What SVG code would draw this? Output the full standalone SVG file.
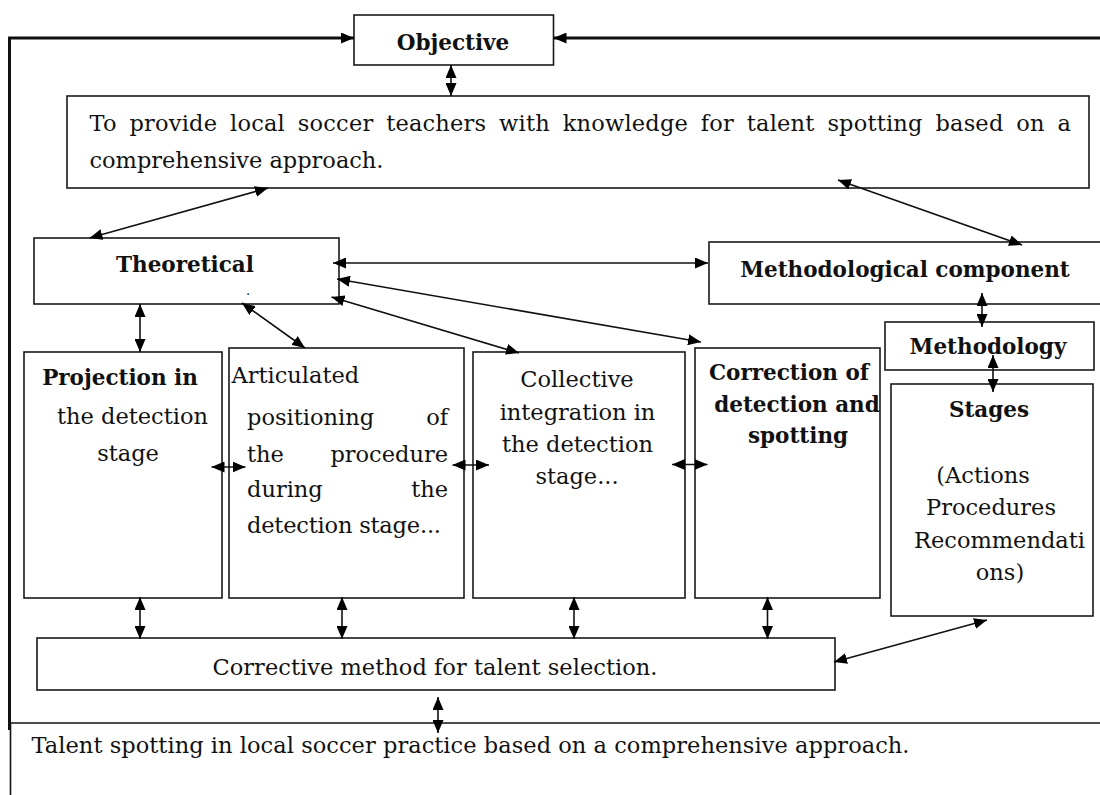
<svg xmlns="http://www.w3.org/2000/svg" width="1100" height="795" viewBox="0 0 1100 795">
<defs>
<marker id="ah" viewBox="0 0 13 11" refX="13" refY="5.5" markerWidth="13" markerHeight="11" markerUnits="userSpaceOnUse" orient="auto-start-reverse"><path d="M0,0L13,5.5L0,11z" fill="#000"/></marker>
<style>
.box{fill:#fff;stroke:#1a1a1a;stroke-width:1.6}
.t{font-family:"DejaVu Serif","Liberation Serif",serif;font-size:22.5px;fill:#111}
.b{font-weight:bold;font-size:21.5px}
.m{text-anchor:middle}
.e{text-anchor:end}
.c{fill:none;stroke:#111;stroke-width:1.6}
.k{fill:none;stroke:#111;stroke-width:3}
.bi{marker-start:url(#ah);marker-end:url(#ah)}
.uni{marker-end:url(#ah)}
</style>
</defs>
<rect width="1100" height="795" fill="#fff"/>

<g id="objective">
<rect class="box" x="354" y="15" width="199.5" height="50"/>
<text class="t b m" x="453" y="50">Objective</text>
</g>

<g id="goal">
<rect class="box" x="67" y="96" width="1022" height="92"/>
<text class="t" x="89.5" y="131" word-spacing="5.5" textLength="981.5" lengthAdjust="spacing">To provide local soccer teachers with knowledge for talent spotting based on a</text>
<text class="t" x="89.5" y="168" textLength="294" lengthAdjust="spacing">comprehensive approach.</text>
</g>

<g id="theoretical">
<rect class="box" x="34" y="238" width="305" height="66"/>
<text class="t b m" x="185" y="272">Theoretical</text>
<text class="t" x="246" y="295" style="font-size:13px">.</text>
</g>

<g id="methodological">
<rect class="box" x="709" y="242" width="400" height="62"/>
<text class="t b m" x="905" y="276.5">Methodological component</text>
</g>

<g id="methodology">
<rect class="box" x="885" y="322" width="209" height="48"/>
<text class="t b m" x="988" y="354">Methodology</text>
</g>

<g id="stages">
<rect class="box" x="891" y="384" width="202" height="232"/>
<text class="t b m" x="989" y="417">Stages</text>
<text class="t m" x="983" y="483">(Actions</text>
<text class="t m" x="991" y="515">Procedures</text>
<text class="t m" x="999.5" y="548">Recommendati</text>
<text class="t m" x="1000" y="580">ons)</text>
</g>

<g id="projection">
<rect class="box" x="24" y="352" width="198" height="246"/>
<text class="t b m" x="120" y="385">Projection in</text>
<text class="t m" x="132.5" y="424">the detection</text>
<text class="t m" x="128" y="461">stage</text>
</g>

<g id="articulated">
<rect class="box" x="229" y="348" width="235" height="250"/>
<text class="t" x="231.5" y="383">Articulated</text>
<text class="t" x="247" y="425">positioning</text>
<text class="t e" x="448" y="425">of</text>
<text class="t" x="247" y="461.5">the</text>
<text class="t e" x="448" y="461.5">procedure</text>
<text class="t" x="247" y="497">during</text>
<text class="t e" x="448" y="497">the</text>
<text class="t" x="247" y="533" textLength="194" lengthAdjust="spacing">detection stage...</text>
</g>

<g id="collective">
<rect class="box" x="473" y="352" width="212" height="246"/>
<text class="t m" x="577" y="387">Collective</text>
<text class="t m" x="577.5" y="420">integration in</text>
<text class="t m" x="577.5" y="452">the detection</text>
<text class="t m" x="577" y="484">stage...</text>
</g>

<g id="correction">
<rect class="box" x="695" y="348" width="185" height="250"/>
<text class="t b m" x="789" y="380">Correction of</text>
<text class="t b m" x="797" y="412">detection and</text>
<text class="t b m" x="798" y="443">spotting</text>
</g>

<g id="corrective">
<rect class="box" x="37" y="638" width="798" height="52"/>
<text class="t m" x="435" y="675" textLength="445" lengthAdjust="spacing">Corrective method for talent selection.</text>
</g>

<g id="result">
<line class="c" x1="10" y1="723" x2="1100" y2="723"/>
<line class="c" x1="10.5" y1="723" x2="10.5" y2="795"/>
<text class="t" x="31.5" y="753" textLength="878" lengthAdjust="spacing">Talent spotting in local soccer practice based on a comprehensive approach.</text>
</g>

<g id="connectors">
<path class="k uni" d="M9.5,730V38H354"/>
<path class="k uni" d="M1100,38H553.5"/>
<path class="c bi" d="M451,65V96"/>
<path class="c bi" d="M268,188L89.5,238"/>
<path class="c bi" d="M838,180L1022,245"/>
<path class="c bi" d="M333,263H708"/>
<path class="c bi" d="M140,304V352"/>
<path class="c bi" d="M242,303L305,348"/>
<path class="c bi" d="M331.5,297L519,353"/>
<path class="c bi" d="M337,279L701,342"/>
<path class="c bi" d="M982,293V327"/>
<path class="c bi" d="M993,355V392"/>
<path class="c bi" d="M211.5,467H245.5"/>
<path class="c bi" d="M452.5,465H489"/>
<path class="c bi" d="M672,464.5H707.5"/>
<path class="c bi" d="M140,597V639"/>
<path class="c bi" d="M342,597V639"/>
<path class="c bi" d="M574,597V639"/>
<path class="c bi" d="M767.5,597V639"/>
<path class="c bi" d="M987,620L834,662"/>
<path class="c bi" d="M438,697V733"/>
</g>
</svg>
